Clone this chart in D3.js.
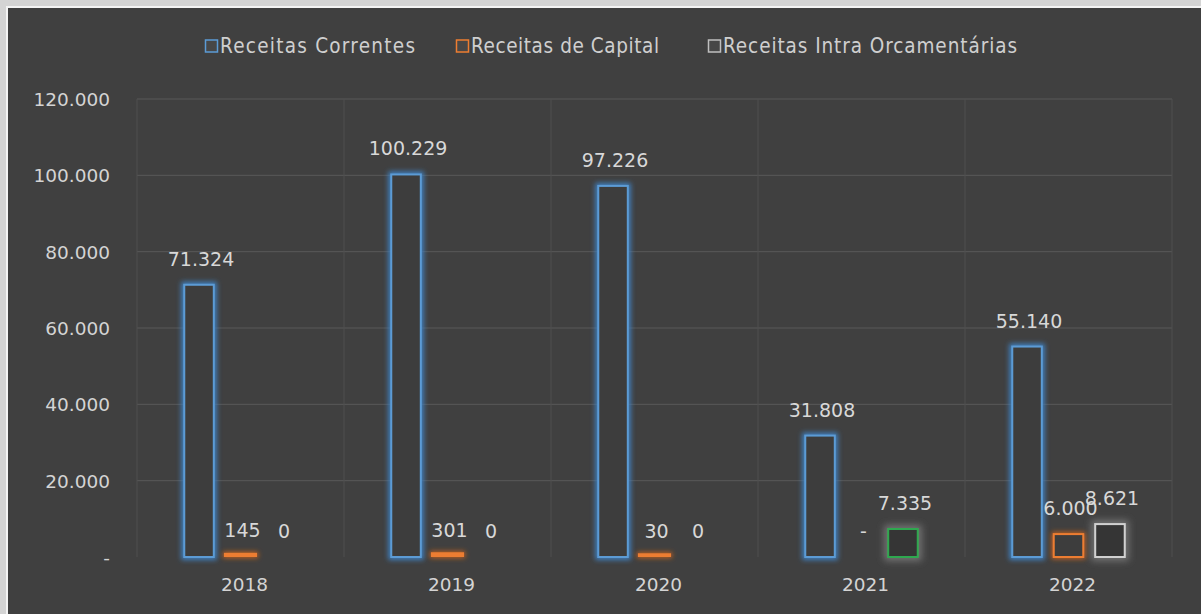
<!DOCTYPE html>
<html>
<head>
<meta charset="utf-8">
<script src="https://cdn.jsdelivr.net/npm/d3@7"></script>
<style>
  html, body { margin: 0; padding: 0; background: #d6d6d6; }
  svg { display: block; }
</style>
</head>
<body>
<svg id="chart" width="1201" height="614"></svg>
<script>
// Receitas por ano (valores em milhares)
const years = ["2018", "2019", "2020", "2021", "2022"];
const seriesNames = ["Receitas Correntes", "Receitas de Capital", "Receitas Intra Orcamentárias"];
const receitasCorrentes = [71324, 100229, 97226, 31808, 55140];
const receitasCapital = [145, 301, 30, 0, 6000];
const receitasIntra = [0.3, 0.3, 0.3, 7335, 8621];
const yTicks = [0, 20000, 40000, 60000, 80000, 100000, 120000];

const seriesColors = ["#5b9bd5", "#ed7d31", "#d0d0d0"];
const highlightColor = "#2fa84f"; // Intra 2021 bar

const svg = d3.select("#chart");
const W = 1201, H = 614;

// frame
svg.append("rect").attr("x", 0).attr("y", 0).attr("width", W).attr("height", H).attr("fill", "#d4d4d4");
svg.append("rect").attr("x", 6).attr("y", 6).attr("width", W).attr("height", H).attr("fill", "#f4f4f4");
svg.append("rect").attr("x", 8).attr("y", 8).attr("width", W).attr("height", H).attr("fill", "#404040");

const defs = svg.append("defs");
// soft coloured halo around each bar outline
function glow(id, color, std, op, dil) {
  const f = defs.append("filter").attr("id", id)
    .attr("filterUnits", "userSpaceOnUse")
    .attr("x", 0).attr("y", 0).attr("width", W).attr("height", H);
  f.append("feMorphology").attr("in", "SourceAlpha").attr("operator", "dilate").attr("radius", dil).attr("result", "d");
  f.append("feGaussianBlur").attr("in", "d").attr("stdDeviation", std).attr("result", "b");
  f.append("feFlood").attr("flood-color", color).attr("flood-opacity", op);
  f.append("feComposite").attr("in2", "b").attr("operator", "in").attr("result", "g");
  const m = f.append("feMerge");
  m.append("feMergeNode").attr("in", "g");
  m.append("feMergeNode").attr("in", "SourceGraphic");
}
glow("glow0", "#3f82c4", 2.6, 0.95, 1.5);
glow("glow1", "#d8661c", 2.4, 0.85, 1);
glow("glow2", "#727272", 3.6, 1, 2.5);
glow("glowG", "#727272", 3.6, 1, 2.5);

const plot = { left: 137, right: 1172, top: 99, bottom: 557 };

const y = d3.scaleLinear().domain([0, 120000]).range([plot.bottom, plot.top]);
const xCat = d3.scaleBand().domain(years).range([plot.left, plot.right]).padding(0);
const x0 = d3.scaleBand().domain(years).range([plot.left, plot.right]).paddingInner(0.447).paddingOuter(0.2235);
const x1 = d3.scaleBand().domain(seriesNames).range([0, x0.bandwidth()]).paddingInner(0.24);

const loc = d3.formatLocale({ decimal: ",", thousands: ".", grouping: [3], currency: ["", ""] });
const fmtNum = loc.format(",.0f");
const fmt = v => v === 0 ? "-" : fmtNum(v);

// gridlines
const grid = svg.append("g");
grid.selectAll("line.h").data(yTicks.filter(d => d > 0)).join("line")
  .attr("x1", plot.left).attr("x2", plot.right)
  .attr("y1", d => y(d)).attr("y2", d => y(d))
  .attr("stroke", "#585858").attr("stroke-width", 1);
const vBounds = years.map(yr => xCat(yr)).concat([plot.right]);
grid.selectAll("line.v").data(vBounds).join("line")
  .attr("x1", d => d).attr("x2", d => d)
  .attr("y1", plot.top).attr("y2", plot.bottom)
  .attr("stroke", "#4f4f4f").attr("stroke-width", 1);

// y axis labels
const yAxis = d3.axisLeft(y).tickValues(yTicks).tickFormat(fmt).tickSize(0).tickPadding(0);
const ya = svg.append("g").attr("transform", `translate(110,0)`).call(yAxis);
ya.select(".domain").remove();
ya.selectAll("text").attr("fill", "#d4d4d4").attr("font-family", "DejaVu Sans")
  .attr("font-size", 18.5).attr("dy", "0.35em");

// x axis labels
const xAxis = d3.axisBottom(xCat).tickSize(0).tickPadding(0);
const xa = svg.append("g").attr("transform", `translate(4,${plot.bottom + 21})`).call(xAxis);
xa.select(".domain").remove();
xa.selectAll("text").attr("fill", "#d4d4d4").attr("font-family", "DejaVu Sans")
  .attr("font-size", 18.5).attr("dy", "0.71em");

// bars
const allSeries = [receitasCorrentes, receitasCapital, receitasIntra];
const rows = [];
allSeries.forEach((vals, si) => {
  vals.forEach((v, i) => {
    const isHighlight = si === 2 && years[i] === "2021";
    rows.push({ s: si, year: years[i], v,
      color: isHighlight ? highlightColor : seriesColors[si],
      filter: isHighlight ? "glowG" : "glow" + si });
  });
});

const flat = d => (y(0) - y(d.v)) < 3;
const bars = svg.append("g");
bars.selectAll("rect").data(rows.filter(d => d.v >= 1)).join("rect")
  .attr("x", d => x0(d.year) + x1(seriesNames[d.s]) + 1)
  .attr("y", d => y(d.v))
  .attr("width", x1.bandwidth() - 2)
  .attr("height", d => Math.max(0, y(0) - y(d.v)))
  .attr("transform", d => flat(d) ? "translate(0,-1.8)" : null)
  .attr("fill", d => d.s === 2 ? "#353535" : "#3e3e3e")
  .attr("stroke", d => d.color)
  .attr("stroke-width", d => flat(d) ? 3.6 : 2)
  .attr("filter", d => `url(#${d.filter})`);

// data labels
svg.append("g").selectAll("text").data(rows).join("text")
  .attr("x", d => x0(d.year) + x1(seriesNames[d.s]) + x1.bandwidth() / 2 + 2)
  .attr("y", d => y(d.v) - 19)
  .attr("text-anchor", "middle")
  .attr("fill", "#d8d8d8")
  .attr("font-family", "DejaVu Sans")
  .attr("font-size", 19)
  .text(d => fmt(d.v));

// legend
const legendItems = [
  { name: seriesNames[0], color: seriesColors[0], x: 205, len: 195 },
  { name: seriesNames[1], color: seriesColors[1], x: 456, len: 188 },
  { name: seriesNames[2], color: "#bfbfbf", x: 708, len: 294 }
];
const lg = svg.append("g").selectAll("g").data(legendItems).join("g")
  .attr("transform", d => `translate(${d.x},46)`);
lg.append("rect").attr("x", 0.5).attr("y", -6).attr("width", 12).attr("height", 12)
  .attr("fill", "#474747").attr("stroke", d => d.color).attr("stroke-width", 1.5);
lg.append("text").attr("x", 15).attr("dy", "0.36em")
  .attr("fill", "#cfcfcf").attr("font-family", "DejaVu Sans Condensed, DejaVu Sans")
  .attr("font-size", 20.5)
  .attr("textLength", d => d.len).attr("lengthAdjust", "spacing")
  .text(d => d.name);
</script>
</body>
</html>
